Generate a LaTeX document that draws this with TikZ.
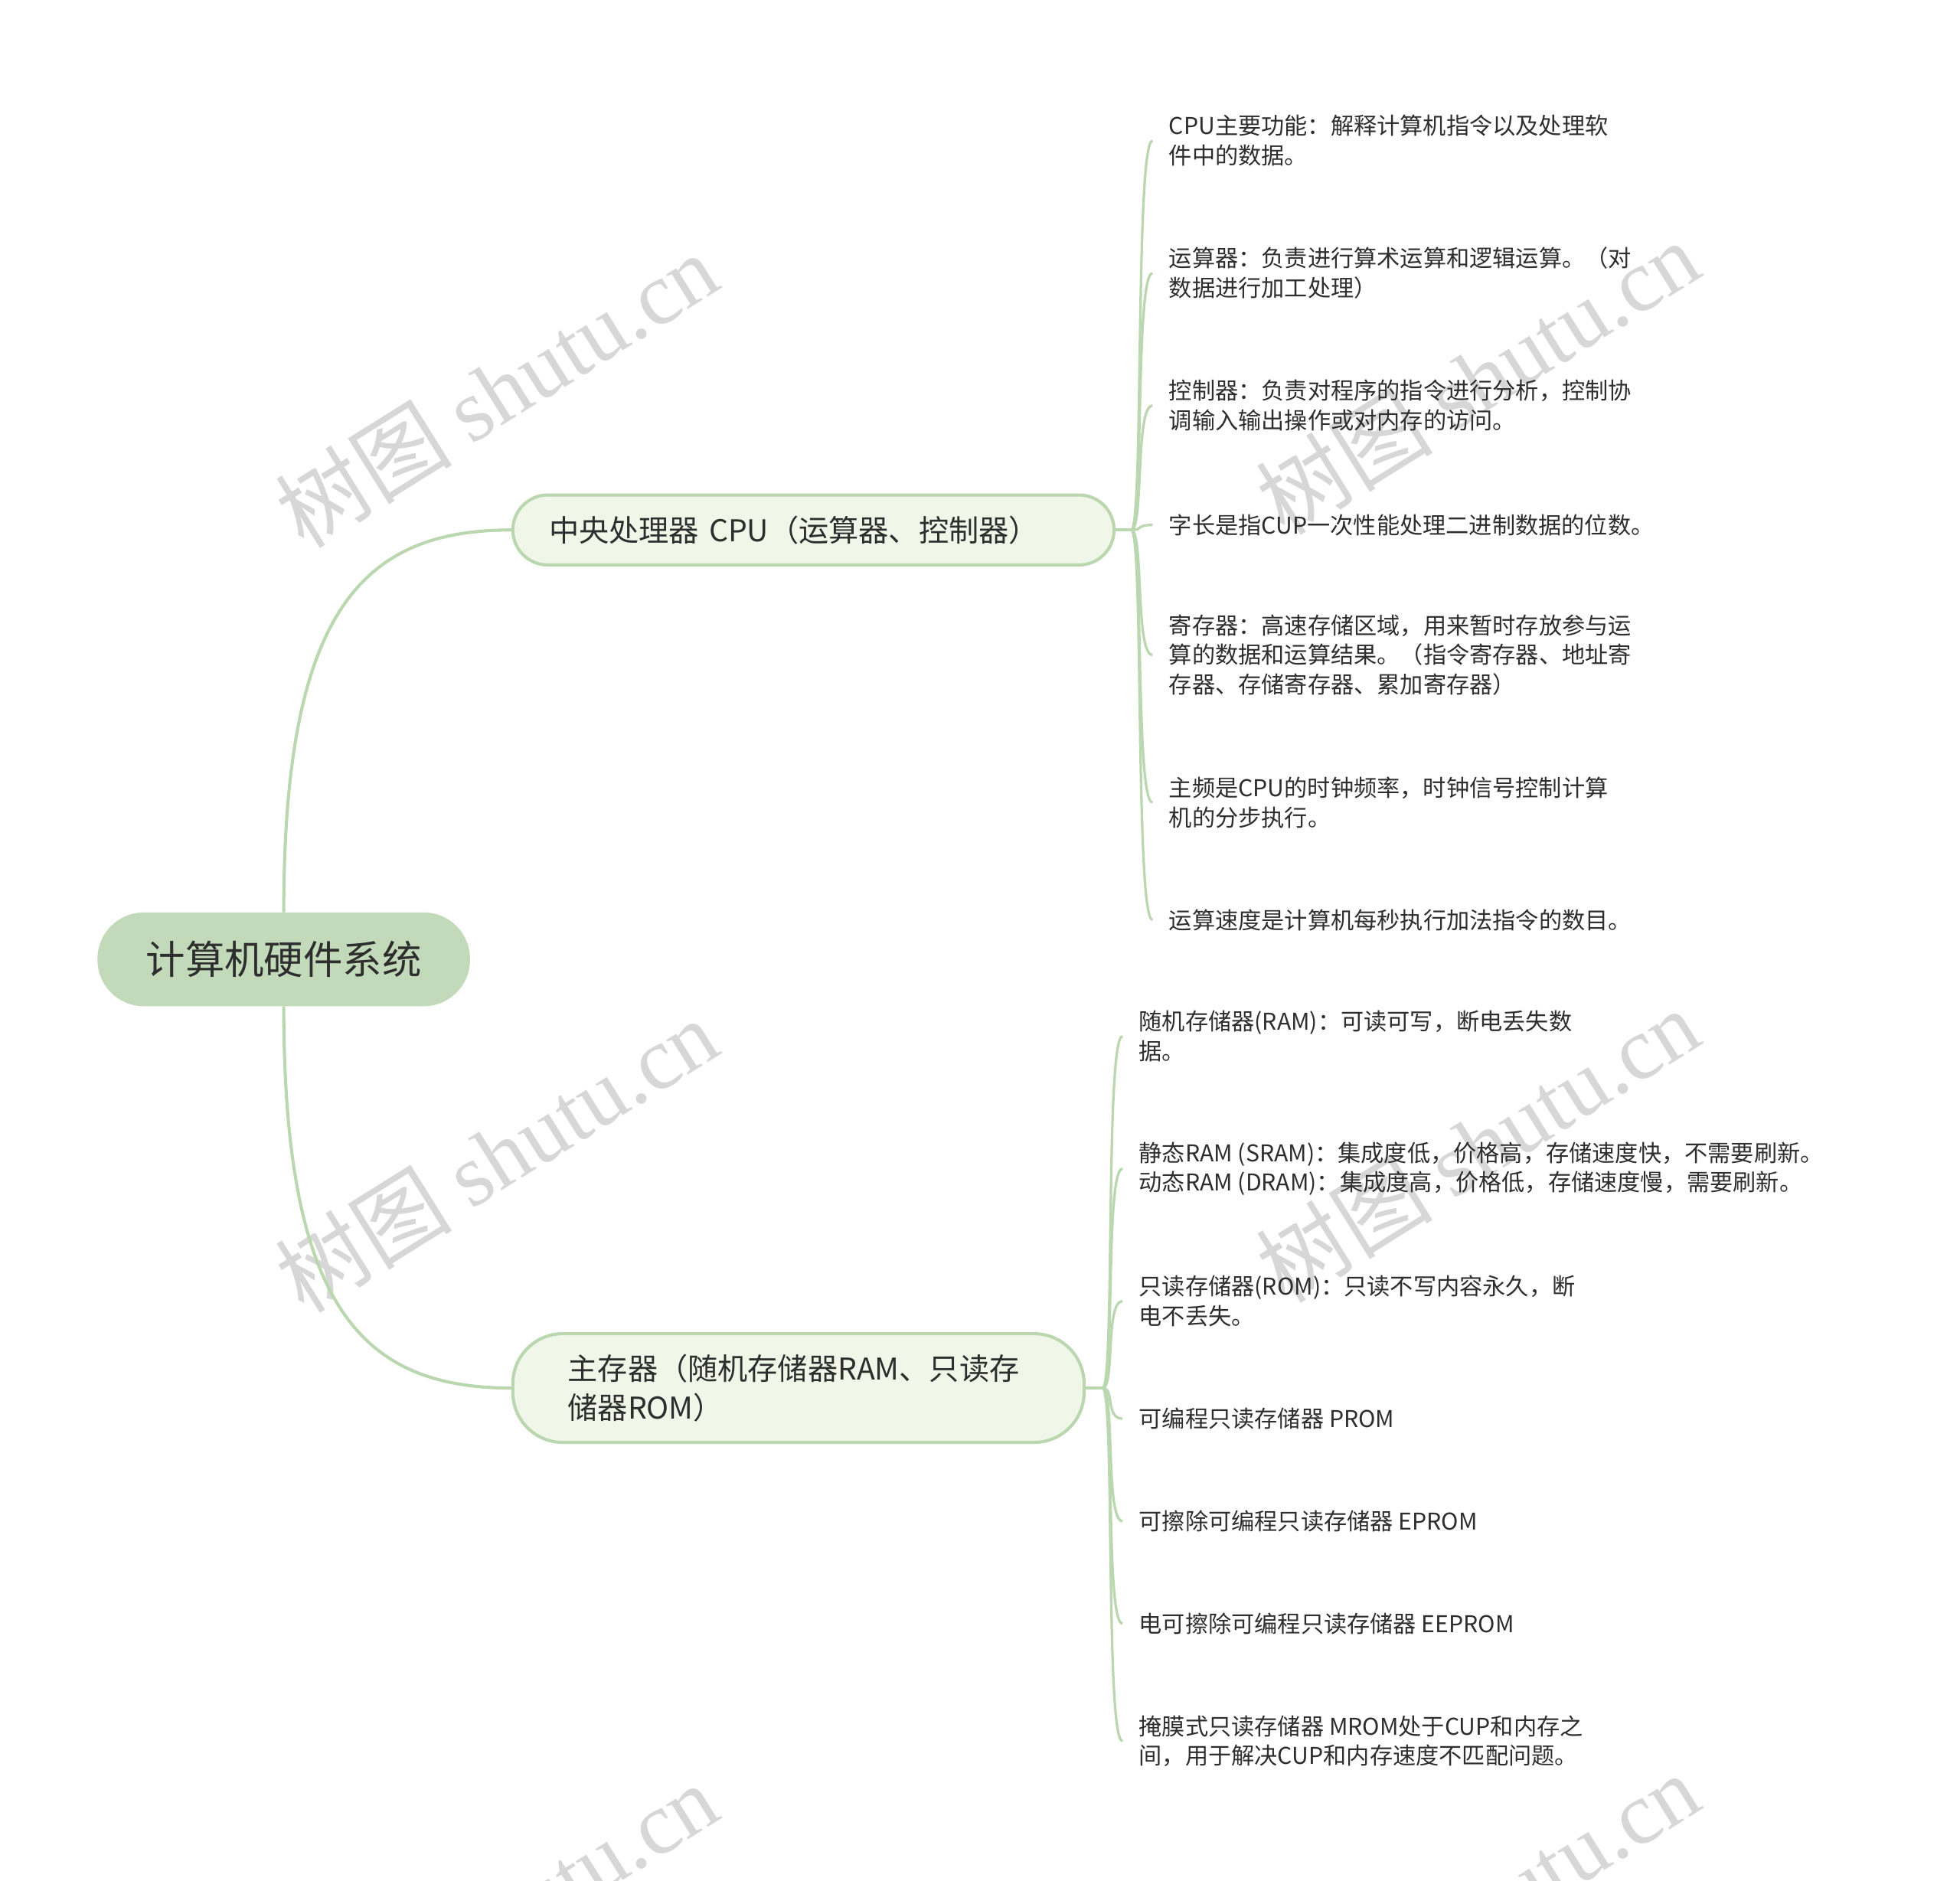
\documentclass[tikz,border=0pt]{standalone}
\usepackage{fontspec}
\setmainfont{Noto Sans CJK SC}
\newfontfamily\wmfont{Liberation Serif}
\usepackage{xcolor}
\definecolor{rootfill}{HTML}{C2DABA}
\definecolor{nodefill}{HTML}{F0F6E8}
\definecolor{edgegreen}{HTML}{BAD7B0}
\definecolor{textgray}{HTML}{2E2E2E}
\definecolor{wmgray}{HTML}{D7D7D7}

\begin{document}
\begin{tikzpicture}[x=1pt,y=-1pt,
	rootbox/.style={fill=rootfill, rounded corners=37pt, minimum width=298pt, minimum height=75pt,
		text=textgray, font=\fontsize{31.5pt}{36pt}\selectfont},
	catbox/.style={draw=edgegreen, line width=2.5pt, fill=nodefill, anchor=west, align=left,
		text=textgray, font=\fontsize{24pt}{31pt}\selectfont},
	leaf/.style={anchor=west, align=left, inner xsep=13pt, inner ysep=0pt,
		text=textgray, font=\fontsize{18.5pt}{23.7pt}\selectfont},
	wmtext/.style={text=wmgray, rotate=32, font=\fontsize{71pt}{80pt}\selectfont},
	link/.style={draw=edgegreen, line width=2.5pt},
	twig/.style={draw=edgegreen, line width=2pt}]
		%\draw[help lines] (0,0) grid (1568,1505);
		\fill[white] (0,0) rectangle (1568,1504.9);
		\useasboundingbox (0,0) rectangle (1568,1504.9);

		% watermarks
		\node[wmtext] (w1) at (397,312) {树图 {\wmfont shutu.cn}};
		\node[wmtext] (w2) at (1182,302) {树图 {\wmfont shutu.cn}};
		\node[wmtext] (w3) at (397,924) {树图 {\wmfont shutu.cn}};
		\node[wmtext] (w4) at (1182,916) {树图 {\wmfont shutu.cn}};
		\node[wmtext] (w5) at (397,1536) {树图 {\wmfont shutu.cn}};
		\node[wmtext] (w6) at (1182,1528) {树图 {\wmfont shutu.cn}};

		\node[rootbox] (root) at (227,767.5) {计算机硬件系统};
		\node[catbox, rounded corners=28pt, minimum height=56pt, inner xsep=29pt, text width=423pt]
			(cpu) at (409,424) {中央处理器 CPU（运算器、控制器）};
		\node[catbox, rounded corners=40pt, minimum height=87pt, inner xsep=44pt, text width=369pt]
			(mem) at (409,1110.5) {主存器（随机存储器RAM、只读存\\储器ROM）};

		\node[leaf] (c1) at (922,112.5) {CPU主要功能：解释计算机指令以及处理软\\件中的数据。};
		\node[leaf] (c2) at (922,218.5) {运算器：负责进行算术运算和逻辑运算。（对\\数据进行加工处理）};
		\node[leaf] (c3) at (922,324.5) {控制器：负责对程序的指令进行分析，控制协\\调输入输出操作或对内存的访问。};
		\node[leaf] (c4) at (922,420) {字长是指CUP一次性能处理二进制数据的位数。};
		\node[leaf] (c5) at (922,524) {寄存器：高速存储区域，用来暂时存放参与运\\算的数据和运算结果。（指令寄存器、地址寄\\存器、存储寄存器、累加寄存器）};
		\node[leaf] (c6) at (922,642) {主频是CPU的时钟频率，时钟信号控制计算\\机的分步执行。};
		\node[leaf] (c7) at (922,736) {运算速度是计算机每秒执行加法指令的数目。};

		\node[leaf] (m1) at (898,829) {随机存储器(RAM)：可读可写，断电丢失数\\据。};
		\node[leaf] (m2) at (898,935) {静态RAM (SRAM)：集成度低，价格高，存储速度快，不需要刷新。\\动态RAM (DRAM)：集成度高，价格低，存储速度慢，需要刷新。};
		\node[leaf] (m3) at (898,1041) {只读存储器(ROM)：只读不写内容永久，断\\电不丢失。};
		\node[leaf] (m4) at (898,1135) {可编程只读存储器 PROM};
		\node[leaf] (m5) at (898,1217) {可擦除可编程只读存储器 EPROM};
		\node[leaf] (m6) at (898,1299) {电可擦除可编程只读存储器 EEPROM};
		\node[leaf] (m7) at (898,1393) {掩膜式只读存储器 MROM处于CUP和内存之\\间，用于解决CUP和内存速度不匹配问题。};

		\coordinate (cpuhub) at (905,424);
		\coordinate (memhub) at (882,1110.5);

		\draw[link] (root.north) .. controls +(0,-240) and +(-120,0) .. (cpu.west);
		\draw[link] (root.south) .. controls +(0,240) and +(-120,0) .. (mem.west);
		\draw[link] (cpu.east) -- (cpuhub);
		\draw[link] (mem.east) -- (memhub);

		\draw[twig] (cpuhub) .. controls +(10,0) and +(-14,0) .. (c1.west);
		\draw[twig] (cpuhub) .. controls +(10,0) and +(-14,0) .. (c2.west);
		\draw[twig] (cpuhub) .. controls +(10,0) and +(-14,0) .. (c3.west);
		\draw[twig] (cpuhub) .. controls +(10,0) and +(-14,0) .. (c4.west);
		\draw[twig] (cpuhub) .. controls +(10,0) and +(-14,0) .. (c5.west);
		\draw[twig] (cpuhub) .. controls +(10,0) and +(-14,0) .. (c6.west);
		\draw[twig] (cpuhub) .. controls +(10,0) and +(-14,0) .. (c7.west);

		\draw[twig] (memhub) .. controls +(10,0) and +(-14,0) .. (m1.west);
		\draw[twig] (memhub) .. controls +(10,0) and +(-14,0) .. (m2.west);
		\draw[twig] (memhub) .. controls +(10,0) and +(-14,0) .. (m3.west);
		\draw[twig] (memhub) .. controls +(10,0) and +(-14,0) .. (m4.west);
		\draw[twig] (memhub) .. controls +(10,0) and +(-14,0) .. (m5.west);
		\draw[twig] (memhub) .. controls +(10,0) and +(-14,0) .. (m6.west);
		\draw[twig] (memhub) .. controls +(10,0) and +(-14,0) .. (m7.west);
\end{tikzpicture}
\end{document}
